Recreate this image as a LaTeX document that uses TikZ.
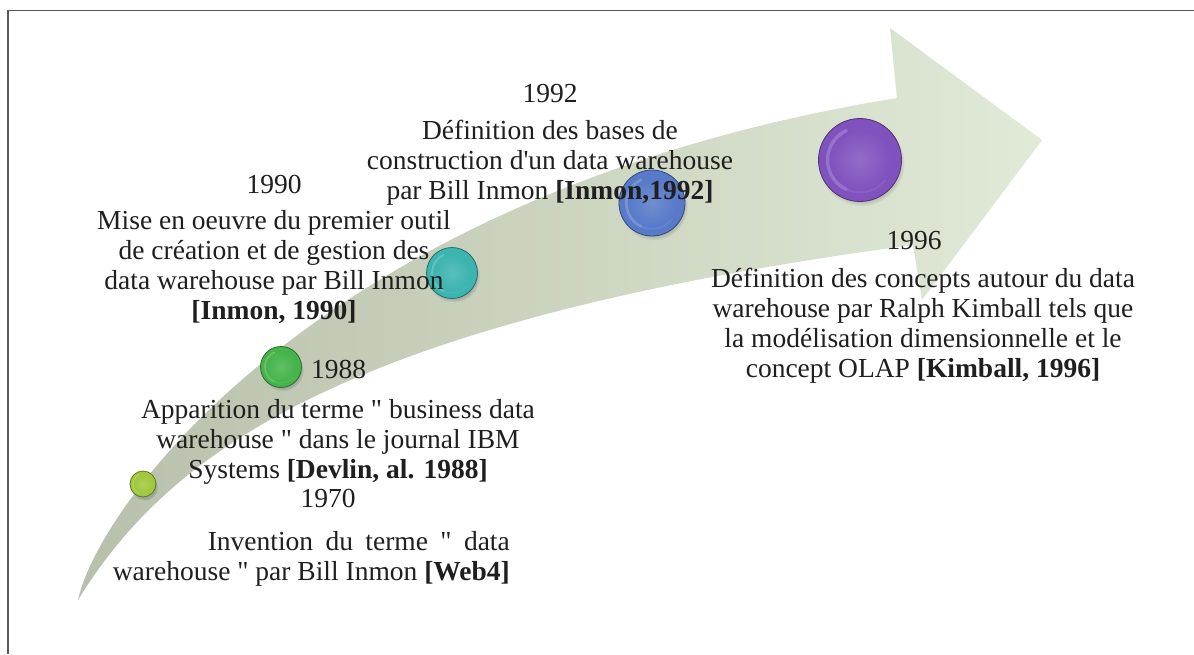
\documentclass[tikz,border=0pt]{standalone}
\usepackage{fontspec}
\setmainfont{Liberation Serif}
\usetikzlibrary{shadows}
\definecolor{limeorb}{RGB}{160,200,60}
\definecolor{greenorb}{RGB}{70,180,75}
\definecolor{tealorb}{RGB}{60,180,175}
\definecolor{blueorb}{RGB}{88,122,200}
\definecolor{purpleorb}{RGB}{128,82,190}
\definecolor{tailtone}{RGB}{184,191,170}
\definecolor{headtone}{RGB}{224,234,214}
\newcommand{\qq}{\textquotedbl}
% glossy button: #1 name, (#2,#3) centre, #4 radius, #5 colour
\newcommand{\orbnode}[5]{%
  \node[orbbase, minimum size=2*#4pt, fill=#5, draw=#5!60!black] (#1) at (#2,#3) {};
  \shade[inner color=#5!85!white, outer color=#5] (#1.center) circle[radius=0.72*#4];
  \begin{scope}[shift={(#1.center)}, y=1pt]
    \draw[draw=#5!65!white, line width=0.08*#4pt, line cap=round, opacity=0.55]
      (115:0.78*#4) arc[start angle=115, end angle=245, radius=0.78*#4];
    \draw[draw=#5!80!white, line width=0.05*#4pt, line cap=round, opacity=0.4]
      (245:0.78*#4) arc[start angle=245, end angle=320, radius=0.78*#4];
  \end{scope}}
\begin{document}
\begin{tikzpicture}[x=1pt,y=-1pt,
  orbbase/.style={circle, inner sep=0pt, line width=0.8pt,
    circular drop shadow={shadow xshift=1.5pt, shadow yshift=-3pt, opacity=0.45, shadow scale=1.04}},
  yearlbl/.style={font=\fontsize{27.5}{30}\selectfont, inner sep=0pt, text=black!88},
  desc/.style={font=\fontsize{27.5}{30}\selectfont, inner sep=0pt, align=center, text=black!88},
  framerule/.style={draw=black!65, line width=1.6pt}]
\useasboundingbox (0,0) rectangle (1194,654);
\fill[white] (0,0) rectangle (1194,654);
% page frame (top and left rules)
\draw[framerule] (8,654) -- (8,10.5) -- (1194,10.5);

% curved timeline arrow
\shade[left color=tailtone, right color=headtone]
  (78,600) .. controls (170,450) and (350,320) .. (913,245)
  -- (922,300) -- (1042,140) -- (890,28) -- (897,98)
  .. controls (330,190) and (100,500) .. (78,600) -- cycle;

% milestones
\orbnode{b1970}{143}{484}{13}{limeorb}
\orbnode{b1988}{281}{367}{20.5}{greenorb}
\orbnode{b1990}{452}{273}{25.5}{tealorb}
\orbnode{b1992}{652}{203}{33}{blueorb}
\orbnode{b1996}{860}{160}{41.5}{purpleorb}

% years
\node[yearlbl] (y1992) at (550,94) {1992};
\node[yearlbl] (y1990) at (274,184) {1990};
\node[yearlbl, anchor=west] (y1988) at (311,369) {1988};
\node[yearlbl] (y1970) at (328,498) {1970};
\node[yearlbl] (y1996) at (914,241) {1996};

% descriptions
\node[desc] (t1992) at (550,163) {Définition des bases de\\construction d\textquotesingle un data warehouse\\par Bill Inmon \textbf{[Inmon,1992]}};
\node[desc] (t1990) at (274,267) {Mise en oeuvre du premier outil\\de création et de gestion des\\data warehouse par Bill Inmon\\\textbf{[Inmon, 1990]}};
\node[desc] (t1988) at (338,442) {Apparition du terme \qq{} business data\\warehouse \qq{} dans le journal IBM\\Systems \textbf{[Devlin, al. 1988]}};
\node[desc, align=right, anchor=east] (t1970) at (510,559) {\makebox[302pt][s]{Invention du terme \qq{} data}\\warehouse \qq{} par Bill Inmon \textbf{[Web4]}};
\node[desc] (t1996) at (923,326) {Définition des concepts autour du data\\warehouse par Ralph Kimball tels que\\la modélisation dimensionnelle et le\\concept OLAP \textbf{[Kimball, 1996]}};
\end{tikzpicture}
\end{document}
